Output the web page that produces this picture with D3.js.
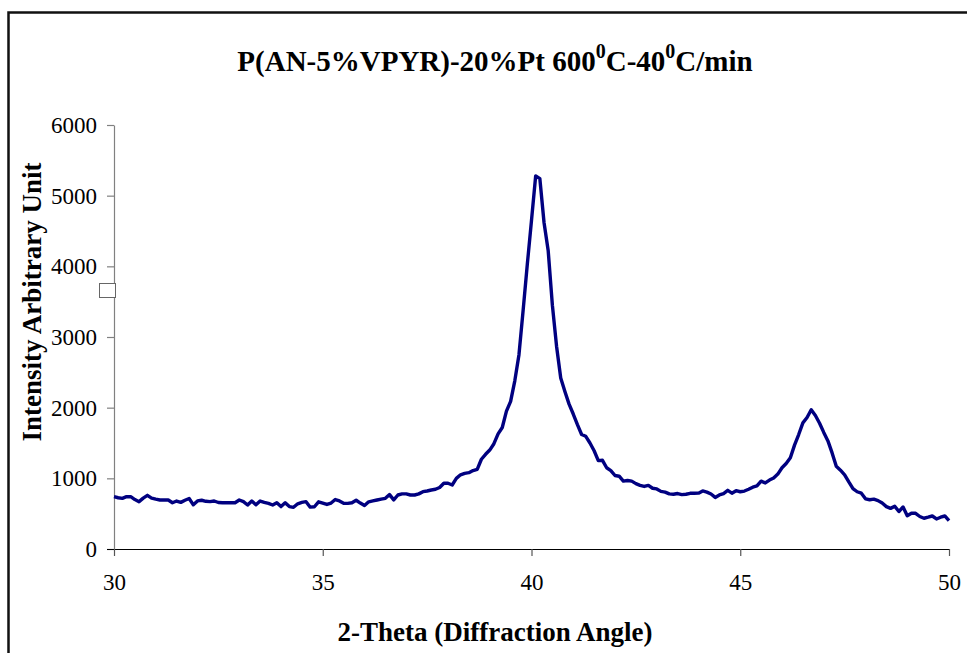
<!DOCTYPE html>
<html>
<head>
<meta charset="utf-8">
<script src="https://cdn.jsdelivr.net/npm/d3@7/dist/d3.min.js"></script>
<style>
  html, body { margin: 0; padding: 0; background: #fff; }
  svg { display: block; }
</style>
</head>
<body>
<svg id="chart" width="967" height="653"></svg>
<script>
// XRD scan: intensity sampled every 0.1 degree of 2-theta, from 30 to 50
const angleStart = 30;
const angleStep = 0.1;
const intensity = [
  740, 725, 717, 740, 740, 700, 670, 720, 760, 720,
  705, 693, 693, 693, 655, 679, 660, 690, 715, 625,
  680, 690, 675, 670, 679, 658, 655, 655, 655, 655,
  693, 670, 623, 679, 625, 679, 660, 645, 623, 655,
  600, 655, 600, 590, 640, 660, 670, 592, 598, 668,
  650, 630, 650, 700, 680, 648, 646, 655, 690, 650,
  615, 668, 680, 693, 705, 717, 770, 695, 764, 780,
  780, 764, 764, 780, 811, 821, 835, 845, 870, 930,
  930, 906, 1000, 1050, 1070, 1080, 1110, 1128, 1270, 1340,
  1400, 1490, 1630, 1720, 1950, 2090, 2380, 2750, 3380, 4030,
  4650, 5280, 5240, 4620, 4220, 3450, 2870, 2420, 2230, 2050,
  1910, 1760, 1620, 1595, 1500, 1390, 1250, 1255, 1150, 1110,
  1040, 1030, 960, 970, 960, 925, 900, 885, 900, 860,
  850, 815, 805, 780, 775, 785, 770, 775, 788, 788,
  790, 822, 805, 778, 730, 765, 785, 830, 790, 825,
  810, 820, 845, 875, 892, 960, 935, 975, 1005, 1060,
  1150, 1210, 1290, 1470, 1620, 1785, 1860, 1970, 1890, 1780,
  1650, 1530, 1360, 1170, 1115, 1050, 950, 855, 810, 790,
  710, 697, 705, 685, 650, 600, 575, 605, 530, 595,
  470, 505, 505, 460, 435, 450, 467, 425, 450, 467,
  400
];
const xTicks = [30, 35, 40, 45, 50];
const yTicks = [0, 1000, 2000, 3000, 4000, 5000, 6000];

const points = intensity.map((v, i) => ({
  angle: +(angleStart + i * angleStep).toFixed(1),
  value: v
}));

const svg = d3.select("#chart");
const serif = '"Liberation Serif", "Times New Roman", serif';

// outer chart frame
svg.append("rect")
  .attr("x", 8.5).attr("y", 12.5)
  .attr("width", 1000).attr("height", 700)
  .attr("fill", "#fff")
  .attr("stroke", "#111")
  .attr("stroke-width", 2.5);

const plot = { left: 114, right: 949, top: 125, bottom: 549 };

const x = d3.scaleLinear().domain([30, 50]).range([plot.left, plot.right]);
const y = d3.scaleLinear().domain([0, 6000]).range([plot.bottom, plot.top]);

// y axis (grey spine, ticks pointing outward)
const yAxis = svg.append("g")
  .attr("transform", `translate(${plot.left},0)`)
  .call(d3.axisLeft(y).tickValues(yTicks).tickFormat(d3.format("d"))
    .tickSize(7).tickPadding(10).tickSizeOuter(0))
  .attr("font-family", serif)
  .attr("font-size", 23);
yAxis.select(".domain").attr("stroke", "#808080").attr("stroke-width", 1.2);
yAxis.selectAll(".tick line").attr("stroke", "#808080").attr("stroke-width", 1.2);
yAxis.selectAll(".tick text").attr("fill", "#000");

// x axis
const xAxis = svg.append("g")
  .attr("transform", `translate(0,${plot.bottom})`)
  .call(d3.axisBottom(x).tickValues(xTicks).tickFormat(d3.format("d"))
    .tickSize(7).tickPadding(18).tickSizeOuter(0))
  .attr("font-family", serif)
  .attr("font-size", 23);
xAxis.select(".domain").attr("stroke", "#000").attr("stroke-width", 1.2)
  .attr("d", `M${plot.left - 7},0.5H${plot.right}`);
xAxis.selectAll(".tick line").attr("stroke", "#555").attr("stroke-width", 1.2);
xAxis.selectAll(".tick text").attr("fill", "#000");

// diffraction trace
const line = d3.line()
  .x(d => x(d.angle))
  .y(d => y(d.value));

svg.append("path")
  .datum(points)
  .attr("d", line)
  .attr("fill", "none")
  .attr("stroke", "#000080")
  .attr("stroke-width", 3.4)
  .attr("stroke-linejoin", "round");

// small legend key box beside the y axis
svg.append("rect")
  .attr("x", 99.5).attr("y", 283.5)
  .attr("width", 16).attr("height", 14)
  .attr("fill", "#fff")
  .attr("stroke", "#666")
  .attr("stroke-width", 1);

// title with superscript degree zeros
const title = svg.append("text")
  .attr("x", 495).attr("y", 71)
  .attr("text-anchor", "middle")
  .attr("font-family", serif)
  .attr("font-weight", "bold")
  .attr("font-size", 29)
  .attr("fill", "#000");
title.append("tspan").text("P(AN-5%VPYR)-20%Pt 600");
title.append("tspan").attr("dy", -13).attr("font-size", 20).text("0");
title.append("tspan").attr("dy", 13).text("C-40");
title.append("tspan").attr("dy", -13).attr("font-size", 20).text("0");
title.append("tspan").attr("dy", 13).text("C/min");

// axis titles
svg.append("text")
  .attr("x", 495).attr("y", 641)
  .attr("text-anchor", "middle")
  .attr("font-family", serif)
  .attr("font-weight", "bold")
  .attr("font-size", 27)
  .text("2-Theta (Diffraction Angle)");

svg.append("text")
  .attr("transform", "translate(41,302) rotate(-90)")
  .attr("text-anchor", "middle")
  .attr("font-family", serif)
  .attr("font-weight", "bold")
  .attr("font-size", 27)
  .text("Intensity Arbitrary Unit");
</script>
</body>
</html>
